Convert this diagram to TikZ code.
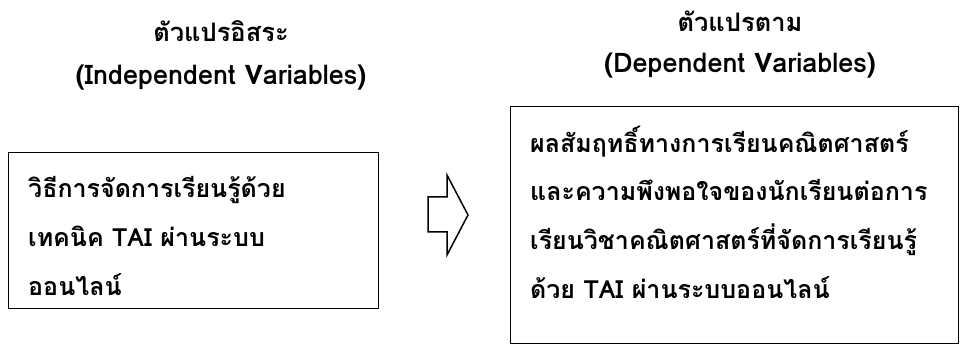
\documentclass[tikz,border=0pt]{standalone}
\usepackage{fontspec}
\setmainfont[Script=Thai]{Loma}
\usetikzlibrary{positioning}
\tikzset{
  vartitle/.style={anchor=base, font=\bfseries\fontsize{25.5}{30}\selectfont},
  varsub/.style={anchor=base, font=\bfseries\fontsize{27}{30}\selectfont},
  varbox/.style={draw, line width=1pt, anchor=north west, inner sep=0pt},
  boxtext/.style={anchor=base west, align=left, inner sep=0pt, font=\bfseries\fontsize{25}{48.6}\selectfont}
}
\begin{document}
\begin{tikzpicture}[line cap=round, line join=round, x=1pt, y=-1pt]
\useasboundingbox (0,0) rectangle (960,347);
\node[vartitle] (indeptitle) at (221,42) {ตัวแปรอิสระ};
\node[varsub] (indepsub) at (221,85) {(Independent Variables)};
\node[vartitle] (deptitle) at (740,32) {ตัวแปรตาม};
\node[varsub] (depsub) at (740,73) {(Dependent Variables)};
\node[varbox, minimum width=370pt, minimum height=156pt] (indepbox) at (8,152) {};
\node[varbox, minimum width=448pt, minimum height=237pt] (depbox) at (510,106) {};
\node[boxtext] (indeptext) at (28,295) {วิธีการจัดการเรียนรู้ด้วย\\เทคนิค TAI ผ่านระบบ\\ออนไลน์};
\node[boxtext] (deptext) at (530,298) {ผลสัมฤทธิ์ทางการเรียนคณิตศาสตร์\\และความพึงพอใจของนักเรียนต่อการ\\เรียนวิชาคณิตศาสตร์ที่จัดการเรียนรู้\\ด้วย TAI ผ่านระบบออนไลน์};
\coordinate (arw) at (428,197);
\draw[line width=1.5pt, line cap=butt, line join=miter] (arw) -- ++(19,0) -- ++(0,-22) -- ++(21,40) -- ++(-21,40) -- ++(0,-23) -- ++(-19,0) -- cycle;
\end{tikzpicture}
\end{document}
